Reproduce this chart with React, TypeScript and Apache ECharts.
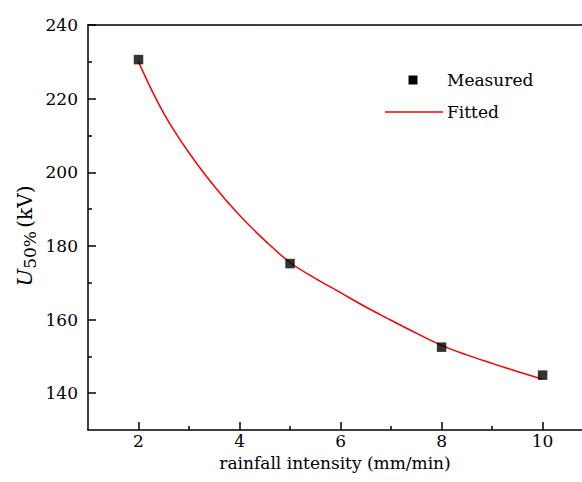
import React, { useEffect, useRef } from "react";
import * as echarts from "echarts";

const measuredX = [2, 5, 8, 10];
const measuredY = [230.6, 175.2, 152.5, 144.9];

const fittedX = [2, 2.5, 3, 3.5, 4, 4.5, 5, 5.5, 6, 6.5, 7, 7.5, 8, 8.5, 9, 9.5, 10];
const fittedY = [230, 216, 205.3, 196.2, 188.3, 181.5, 175.5, 171.2, 167.3, 163.4, 159.8, 156.3, 153.0, 150.4, 148.1, 145.9, 143.8];

const xMajorTicks = [2, 4, 6, 8, 10];
const xMinorTicks = [3, 5, 7, 9];
const yMajorTicks = [140, 160, 180, 200, 220, 240];
const yMinorTicks = [150, 170, 190, 210, 230];

const FONT = "DejaVu Serif";
const FS = 17;

export default function App() {
  const ref = useRef<HTMLDivElement>(null);
  useEffect(() => {
    if (!ref.current) return;
    const chart = echarts.init(ref.current, null, { renderer: "svg" });
    const axisLine = { show: true, onZero: false, lineStyle: { color: "#000", width: 1.5 } };
    const xBase = { type: "value", min: 1, max: 10.78, splitLine: { show: false } };
    const yBase = { type: "value", min: 130, max: 240, splitLine: { show: false } };
    chart.setOption({
      animation: false,
      backgroundColor: "#fff",
      grid: { left: 88, right: 0, top: 25, bottom: 52, containLabel: false },
      xAxis: [
        {
          ...xBase,
          position: "bottom",
          axisLine,
          axisTick: { show: true, inside: true, length: 8, customValues: xMajorTicks, lineStyle: { color: "#000", width: 1.5 } },
          axisLabel: { show: true, customValues: xMajorTicks, margin: 2, color: "#000", fontFamily: FONT, fontSize: FS },
          name: "rainfall intensity (mm/min)",
          nameLocation: "middle",
          nameGap: 24,
          nameTextStyle: { color: "#000", fontFamily: FONT, fontSize: FS, verticalAlign: "top" },
        },
        {
          ...xBase,
          position: "bottom",
          axisLine: { show: false, onZero: false },
          axisTick: { show: true, inside: true, length: 4, customValues: xMinorTicks, lineStyle: { color: "#000", width: 1.5 } },
          axisLabel: { show: false },
        },
        {
          ...xBase,
          position: "top",
          axisLine,
          axisTick: { show: false },
          axisLabel: { show: false },
        },
      ],
      yAxis: [
        {
          ...yBase,
          position: "left",
          axisLine,
          axisTick: { show: true, inside: true, length: 8, customValues: yMajorTicks, lineStyle: { color: "#000", width: 1.5 } },
          axisLabel: { show: true, customValues: yMajorTicks, margin: 10, color: "#000", fontFamily: FONT, fontSize: FS },
        },
        {
          ...yBase,
          position: "left",
          axisLine: { show: false, onZero: false },
          axisTick: { show: true, inside: true, length: 4, customValues: yMinorTicks, lineStyle: { color: "#000", width: 1.5 } },
          axisLabel: { show: false },
        },
      ],
      graphic: [
        {
          type: "text",
          x: 25,
          y: 236,
          rotation: Math.PI / 2,
          style: {
            text: "{i|U}{s|50%} {n|(kV)}",
            align: "center",
            verticalAlign: "middle",
            fill: "#000",
            rich: {
              i: { fontFamily: FONT, fontSize: 21, fontStyle: "italic", fill: "#000" },
              s: { fontFamily: FONT, fontSize: 17, fill: "#000", padding: [9, 0, 0, 0] },
              n: { fontFamily: FONT, fontSize: 20, fill: "#000" },
            },
          },
        },
        { type: "rect", shape: { x: 408.5, y: 75.5, width: 9, height: 9 }, style: { fill: "#000" } },
        { type: "line", shape: { x1: 385, y1: 112, x2: 443, y2: 112 }, style: { stroke: "#ff0000", lineWidth: 1.5 } },
        { type: "text", x: 447, y: 80, style: { text: "Measured", fill: "#000", fontFamily: FONT, fontSize: FS, verticalAlign: "middle" } },
        { type: "text", x: 447, y: 112, style: { text: "Fitted", fill: "#000", fontFamily: FONT, fontSize: FS, verticalAlign: "middle" } },
      ],
      series: [
        {
          type: "line",
          name: "Fitted",
          xAxisIndex: 0,
          yAxisIndex: 0,
          data: fittedX.map((x, i) => [x, fittedY[i]]),
          smooth: 0.4,
          showSymbol: false,
          lineStyle: { color: "#ff0000", width: 1.5 },
          z: 2,
        },
        {
          type: "scatter",
          name: "Measured",
          xAxisIndex: 0,
          yAxisIndex: 0,
          data: measuredX.map((x, i) => [x, measuredY[i]]),
          symbol: "rect",
          symbolSize: 9.5,
          itemStyle: { color: "#000" },
          z: 3,
        },
      ],
    });
    return () => chart.dispose();
  }, []);
  return <div ref={ref} style={{ position: "absolute", left: 0, top: 0, width: 582, height: 482 }} />;
}
